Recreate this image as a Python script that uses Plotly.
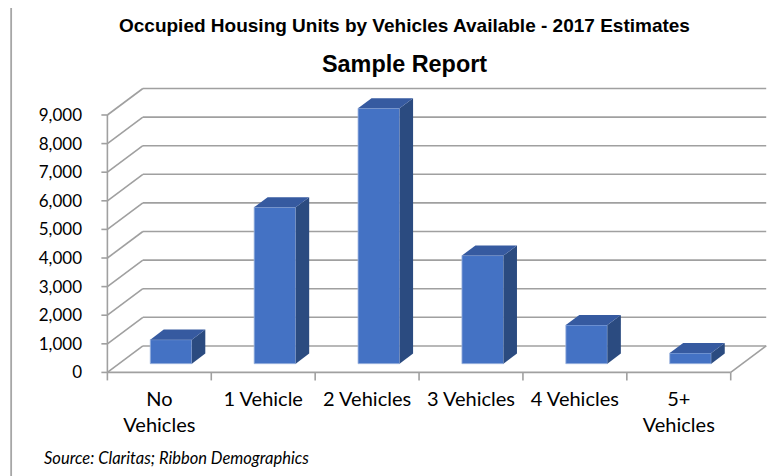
import plotly.graph_objects as go

categories = ["No<br>Vehicles", "1 Vehicle", "2 Vehicles", "3 Vehicles", "4 Vehicles", "5+<br>Vehicles"]
values = [840, 5470, 8930, 3780, 1350, 370]
y_ticks = list(range(0, 9001, 1000))
y_tick_labels = [f"{v:,}" for v in y_ticks]

title_text = "Occupied Housing Units by Vehicles Available - 2017 Estimates"
subtitle_text = "Sample Report"
source_text = "Source: Claritas; Ribbon Demographics"

# the page body has an 8px margin, so the figure is laid out 8px up-left
PAGE = 8
W, H = 775 - PAGE, 476 - PAGE

# pseudo-3D geometry, in pixels of the front plane (page coords)
X0_PX, Y0_PX = 107 - PAGE, 372.5 - PAGE   # front-left floor corner
RIGHT_PX, TOP_PX = 767 - PAGE, 84 - PAGE
UX = 103.95                      # px per category
UY = 257.5 / 9000                # px per value unit
DEPTH_X = 35.5 / UX              # back-wall shift in category units
DEPTH_Y = 26.5 / UY              # back-wall shift in value units
BAR_HALF = 0.2
D0, D1 = 0.33, 0.71              # bar depth range (0 = front, 1 = back)

x_min, x_max = -0.1, (RIGHT_PX - X0_PX) / UX
y_min, y_max = -300, (Y0_PX - TOP_PX) / UY
margin_l = X0_PX + x_min * UX
margin_r = W - RIGHT_PX
margin_t = TOP_PX
margin_b = H - (Y0_PX - y_min * UY)

FRONT = "#4472C4"
TOP = "#365AA0"
SIDE = "#2B4B80"
GRID = "#A0A0A0"

n = len(categories)
fig = go.Figure()

# walls and floor
shapes = []


def seg(x0, y0, x1, y1):
    return dict(type="line", xref="x", yref="y",
                x0=x0, y0=y0, x1=x1, y1=y1, layer="below",
                line=dict(color=GRID, width=1.6))


for v in y_ticks:
    shapes.append(seg(DEPTH_X, v + DEPTH_Y, n + DEPTH_X, v + DEPTH_Y))   # back wall
    shapes.append(seg(0, v, DEPTH_X, v + DEPTH_Y))                      # side wall
    shapes.append(seg(-6 / UX, v, 0, v))                                # tick
shapes.append(seg(0, 0, 0, y_ticks[-1]))
shapes.append(seg(0, 0, n, 0))
shapes.append(seg(n, 0, n + DEPTH_X, DEPTH_Y))
for i in range(n + 1):
    shapes.append(seg(i, 0, i, -8 / UY))


def paper_x(px):
    return (px - PAGE - margin_l) / (W - margin_l - margin_r)


def paper_y(py):
    return (H - margin_b - (py - PAGE)) / (H - margin_t - margin_b)


# chart border
border = dict(color="#A6A6A6", width=1.8)
shapes.append(dict(type="line", xref="paper", yref="paper",
                   x0=paper_x(10.7), x1=paper_x(800),
                   y0=paper_y(4.5), y1=paper_y(4.5), line=border))
shapes.append(dict(type="line", xref="paper", yref="paper",
                   x0=paper_x(10.7), x1=paper_x(10.7),
                   y0=paper_y(500), y1=paper_y(4.5), line=border))

# front faces
base = D0 * DEPTH_Y
centers = [i + 0.5 + D0 * DEPTH_X for i in range(n)]
fig.add_trace(go.Bar(
    x=centers, y=values, base=[base] * n, width=2 * BAR_HALF,
    marker=dict(color=FRONT, line=dict(color="#9FB6E0", width=0.8)),
    hoverinfo="skip",
))

# side and top faces
dx = (D1 - D0) * DEPTH_X
dy = (D1 - D0) * DEPTH_Y
for c, v in zip(centers, values):
    xl, xr = c - BAR_HALF, c + BAR_HALF
    yb, yt = base, base + v
    fig.add_trace(go.Scatter(
        x=[xr, xr + dx, xr + dx, xr, xr], y=[yb, yb + dy, yt + dy, yt, yb],
        fill="toself", fillcolor=SIDE, mode="lines", line=dict(width=0),
        hoverinfo="skip",
    ))
    fig.add_trace(go.Scatter(
        x=[xl, xr, xr + dx, xl + dx, xl], y=[yt, yt, yt + dy, yt + dy, yt],
        fill="toself", fillcolor=TOP, mode="lines", line=dict(width=0),
        hoverinfo="skip",
    ))

fig.update_layout(
    width=W, height=H,
    margin=dict(l=margin_l, r=margin_r, t=margin_t, b=margin_b, autoexpand=False),
    paper_bgcolor="white", plot_bgcolor="white",
    showlegend=False,
    shapes=shapes,
    font=dict(family="Lato", size=17, color="black"),
    xaxis=dict(range=[x_min, x_max], tickvals=[i + 0.5 for i in range(n)],
               ticktext=categories, ticks="", showgrid=False, zeroline=False,
               showline=False, ticklabelstandoff=4, automargin=False,
               tickfont=dict(size=20), fixedrange=True),
    yaxis=dict(range=[y_min, y_max], tickvals=y_ticks, ticktext=y_tick_labels,
               ticks="", showgrid=False, zeroline=False, showline=False,
               ticklabelstandoff=14, automargin=False, fixedrange=True),
    annotations=[
        dict(text=f"<b>{title_text}</b>", xref="paper", yref="paper",
             x=paper_x(404), y=paper_y(25), showarrow=False,
             xanchor="center", yanchor="middle",
             font=dict(family="Liberation Sans", size=19, color="black")),
        dict(text=f"<b>{subtitle_text}</b>", xref="paper", yref="paper",
             x=paper_x(404), y=paper_y(64), showarrow=False,
             xanchor="center", yanchor="middle",
             font=dict(family="Liberation Sans", size=23.4, color="black")),
        dict(text=f"<i>{source_text}</i>", xref="paper", yref="paper",
             x=paper_x(42), y=paper_y(458), showarrow=False,
             xanchor="left", yanchor="middle",
             font=dict(family="Lato", size=16.5, color="black")),
    ],
)

fig.write_html("out.html")
